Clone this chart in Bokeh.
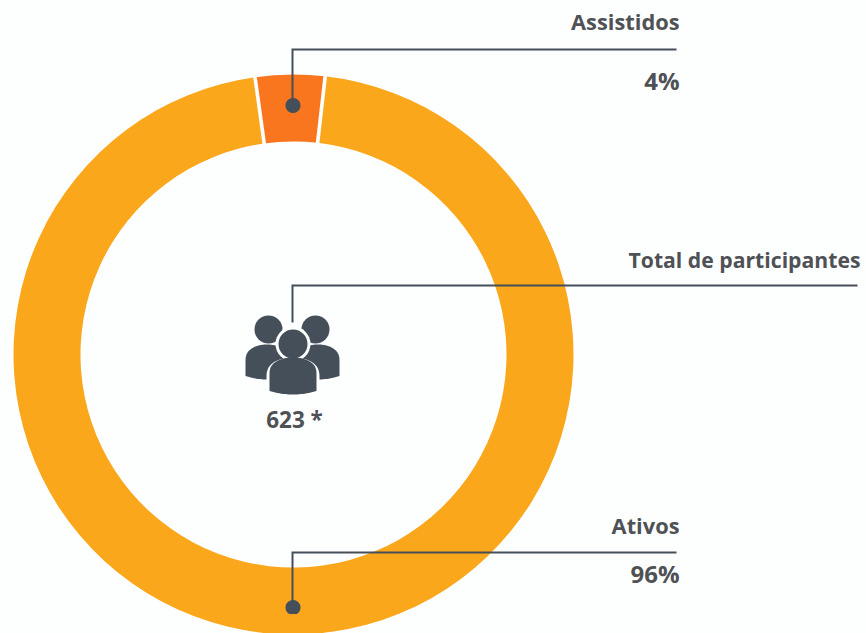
import numpy as np
from bokeh.plotting import figure
from bokeh.models import Range1d
from bokeh.core.properties import value
from bokeh.embed import file_html
from bokeh.resources import INLINE

# data
categories = ["Ativos", "Assistidos"]
shares = [96, 4]
share_labels = ["96%", "4%"]
colors = ["#FBA71B", "#FA761E"]
total_title = "Total de participantes"
total_label = "623 *"

# layout (page pixels; y is negated so that the scale runs upwards)
CX, CY = 293, 354
R_OUT, R_IN = 280, 213
ROT = 0.7
INK = "#454F59"
TXT = "#4F5155"
BG = "#FDFFFF"
FONT = value("Open Sans")
TEXT_DY = -9

p = figure(width=866, height=633, output_backend="svg", toolbar_location=None,
           x_range=Range1d(0, 866), y_range=Range1d(-633, 0),
           min_border=0, background_fill_color=BG, border_fill_color=BG)
p.axis.visible = False
p.grid.visible = False
p.outline_line_color = None

# ring
half = shares[1] / sum(shares) * 180
centre = 90 + ROT
a_start = np.deg2rad(centre - half)
a_end = np.deg2rad(centre + half)
p.annular_wedge([CX], [-CY], R_IN, R_OUT, a_end, a_start + 2 * np.pi, color=colors[0], line_color=None)
p.annular_wedge([CX], [-CY], R_IN, R_OUT, a_start, a_end, color=colors[1], line_color=None)
for a in (a_start, a_end):
    p.line([CX + (R_IN - 2) * np.cos(a), CX + (R_OUT + 2) * np.cos(a)],
           [-CY + (R_IN - 2) * np.sin(a), -CY + (R_OUT + 2) * np.sin(a)],
           line_color=BG, line_width=3.6)

# leaders
def leader(x0, y0, y1, x1):
    p.line([x0, x0, x1], [-y0, -y1, -y1], line_color=INK, line_width=2, line_join="miter")

leader(292, 105, 49, 676)
leader(292, 322, 285, 857)
leader(292, 607, 552, 676)

# dots
t = np.linspace(0, 2 * np.pi, 80)
p.patch(292.5 + 7.5 * np.cos(t), -105 + 7.5 * np.sin(t), color=INK, line_color=None)
p.patch(292.5 + 7.5 * np.cos(t), np.maximum(-607 + 7.5 * np.sin(t), -613.5), color=INK, line_color=None)

# people icon
def body(cx, top, bottom, hw, color, grow=0.0):
    u = np.linspace(np.pi, 0, 40)
    shoulder = 17 + grow
    xs = cx + (hw + grow) * np.cos(u)
    ys = -(top + shoulder) + shoulder * np.sin(u) ** 0.75
    bx = np.linspace(cx + hw + grow, cx - hw - grow, 25)
    by = -bottom - grow - 3.5 * (1 - ((bx - cx) / (hw + grow)) ** 2) + 3.5
    p.patch(np.r_[xs, bx], np.r_[ys, by], color=color, line_color=None)

for cx in (268, 315):
    p.circle([cx], [-329], radius=14, color=INK, line_color=None)
body(266.5, 344, 379, 21.5, INK)
body(317.5, 344, 379, 21.5, INK)
p.circle([292.5], [-343.5], radius=17.5, color=BG, line_color=None)
body(292.5, 357, 394, 23.5, BG, 3)
body(292.5, 357, 394, 23.5, INK)
p.circle([292.5], [-343.5], radius=14.5, color=INK, line_color=None)

# texts
def label(x, y, s, size, align="right"):
    p.text([x], [-(y + TEXT_DY)], text=[s], text_font=FONT, text_font_size=size, text_font_style="bold",
           text_color=TXT, text_align=align, text_baseline="alphabetic")

label(679, 30, categories[1], "21.8px")
label(679, 89, share_labels[1], "24px")
label(860, 268, total_title, "21.2px")
label(294, 428, total_label, "22.5px", "center")
label(679, 534, categories[0], "21.8px")
label(679, 582, share_labels[0], "24px")

open("out.html", "w").write(file_html(p, INLINE))
